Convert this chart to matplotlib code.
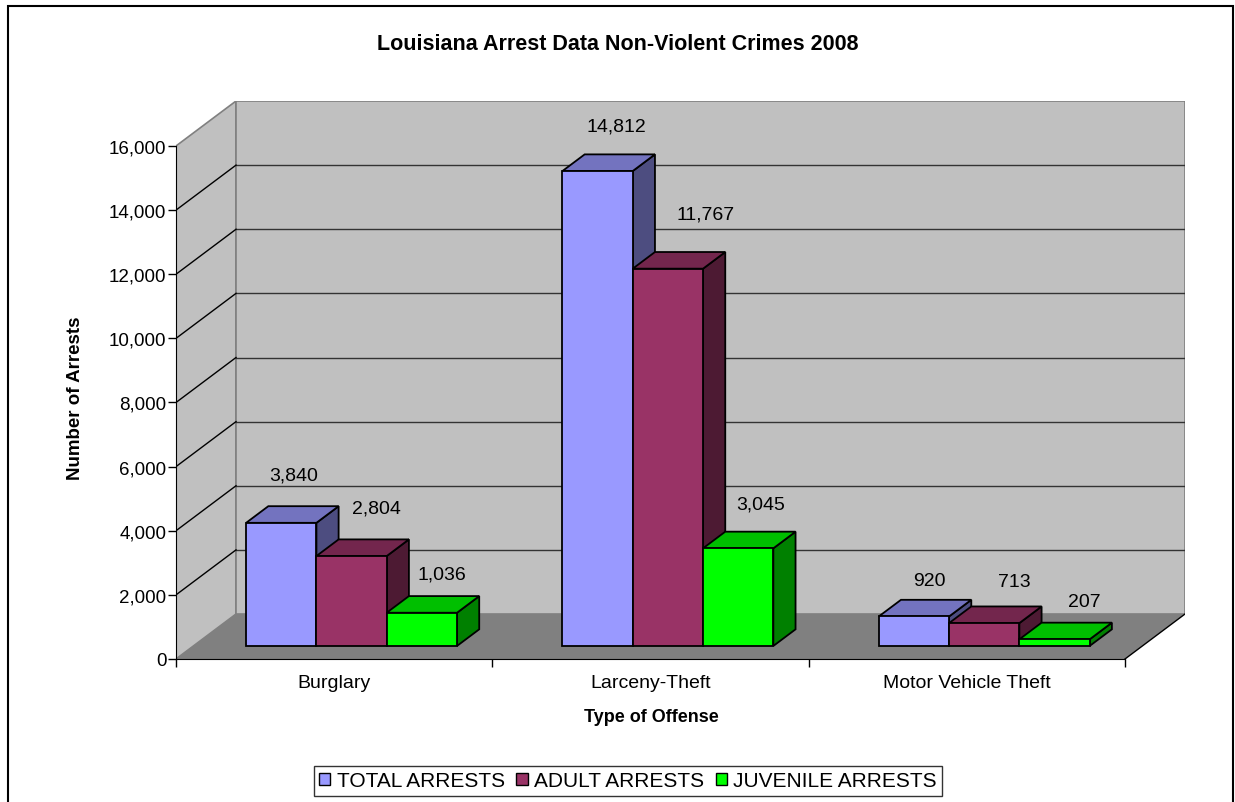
"""
Louisiana arrests 2008, non-violent crimes: 3D-style clustered column chart
"""

import matplotlib.pyplot as plt
from matplotlib.patches import Polygon, Rectangle, Patch
from matplotlib.ticker import FuncFormatter

plt.rcParams['font.family'] = ['Liberation Sans', 'DejaVu Sans']

# data
categories = ['Burglary', 'Larceny-Theft', 'Motor Vehicle Theft']
series_names = ['TOTAL ARRESTS', 'ADULT ARRESTS', 'JUVENILE ARRESTS']
total_arrests = [3840, 14812, 920]
adult_arrests = [2804, 11767, 713]
juvenile_arrests = [1036, 3045, 207]
y_ticks = [0, 2000, 4000, 6000, 8000, 10000, 12000, 14000, 16000]

# face / top / side shades per series
front_colors = ['#9999FF', '#993366', '#00FF00']
top_colors = ['#7373BF', '#73264D', '#00BF00']
side_colors = ['#4D4D80', '#4D1A33', '#008000']

# label nudges (pixels) from each bar's back-top centre
label_nudge = [
    [(-10, 31), (3, 31), (-2, 22)],
    [(-3, 28), (15, 38), (0, 28)],
    [(-7, 19), (8, 25), (8, 21)],
]

YMAX = 16000
DX = 0.1897      # depth offset in category units
DY = 1403        # depth offset in value units
BAR_W = 1 / 4.5  # gap width 150%
F0, F1 = 0.29, 0.66  # bar depth span as fraction of floor depth

W, H = 1235, 803
fig = plt.figure(figsize=(W / 100, H / 100), dpi=100)
ax = fig.add_axes([176 / W, (H - 660) / H, (1185 - 176) / W, (660 - 102) / H])
ax.set_xlim(0, 3 + DX)
ax.set_ylim(0, YMAX + DY)
ax.patch.set_visible(False)


def at(x, y, f):
    return (x + f * DX, y + f * DY)


# walls and floor
ax.add_patch(Polygon([(0, 0), at(0, 0, 1), at(0, YMAX, 1), (0, YMAX)],
                     facecolor='#C0C0C0', edgecolor='#808080', lw=1.2, zorder=1))
ax.add_patch(Rectangle(at(0, 0, 1), 3, YMAX, facecolor='#C0C0C0',
                       edgecolor='#808080', lw=1.2, zorder=1))
ax.add_patch(Polygon([(0, 0), (3, 0), at(3, 0, 1), at(0, 0, 1)],
                     facecolor='#808080', edgecolor='none', zorder=1.5))
ax.plot([3, 3 + DX], [0, DY], color='black', lw=1, zorder=2)

# gridlines on back wall and side wall
for v in y_ticks[1:-1]:
    ax.plot([DX, 3 + DX], [v + DY, v + DY], color='#333333', lw=1, zorder=2)
    ax.plot([0, DX], [v, v + DY], color='black', lw=1, zorder=2)

# bars
series = [total_arrests, adult_arrests, juvenile_arrests]
for ci in range(len(categories)):
    start = ci + (1 - 3 * BAR_W) / 2
    for si, vals in enumerate(series):
        v = vals[ci]
        x0 = start + si * BAR_W
        x1 = x0 + BAR_W
        front = [at(x0, 0, F0), at(x1, 0, F0), at(x1, v, F0), at(x0, v, F0)]
        top = [at(x0, v, F0), at(x1, v, F0), at(x1, v, F1), at(x0, v, F1)]
        side = [at(x1, 0, F0), at(x1, 0, F1), at(x1, v, F1), at(x1, v, F0)]
        z = 3 + ci * 3 + si
        for pts, c in [(side, side_colors[si]), (top, top_colors[si]), (front, front_colors[si])]:
            ax.add_patch(Polygon(pts, closed=True, facecolor=c, edgecolor='black',
                                 lw=1.3, joinstyle='miter', zorder=z))
        nx, ny = label_nudge[ci][si]
        ax.annotate(f'{v:,}', xy=at((x0 + x1) / 2, v, F1), xytext=(nx, ny),
                    textcoords='offset pixels', ha='center', va='center',
                    fontsize=14, zorder=20, annotation_clip=False)

# axes
for s in ['top', 'right']:
    ax.spines[s].set_visible(False)
ax.spines['left'].set_bounds(0, YMAX)
ax.spines['bottom'].set_bounds(0, 3)
ax.spines['left'].set_zorder(30)
ax.spines['bottom'].set_zorder(30)
ax.set_yticks(y_ticks)
ax.yaxis.set_major_formatter(FuncFormatter(lambda v, p: f'{int(v):,}'))
ax.tick_params(axis='y', direction='out', length=6, width=1, pad=1, labelsize=13.5)
ax.set_xticks([0, 1, 2, 3])
ax.set_xticklabels([])
ax.set_xticks([0.5, 1.5, 2.5], minor=True)
ax.set_xticklabels(categories, minor=True)
ax.tick_params(axis='x', which='major', direction='out', length=6, width=1)
ax.tick_params(axis='x', which='minor', length=0, pad=11, labelsize=14)

fig.text(0.5, 1 - 45 / H, 'Louisiana Arrest Data Non-Violent Crimes 2008',
         ha='center', va='center', fontsize=15.5, fontweight='bold')
fig.text(75 / W, 1 - 398 / H, 'Number of Arrests', rotation=90,
         ha='center', va='center', fontsize=13.5, fontweight='bold')
fig.text(651 / W, 1 - 718 / H, 'Type of Offense',
         ha='center', va='center', fontsize=13, fontweight='bold')

handles = [Patch(facecolor=c, edgecolor='black', lw=1) for c in front_colors]
leg = fig.legend(handles, series_names, loc='center', ncol=3,
                 bbox_to_anchor=(628 / W, 1 - 782 / H), fontsize=15,
                 frameon=True, fancybox=False, handlelength=0.55, handleheight=0.55,
                 handletextpad=0.3, columnspacing=0.55, borderpad=0.25,
                 borderaxespad=0)
leg.get_frame().set_edgecolor('black')
leg.get_frame().set_linewidth(1)

# outer chart border
fig.patches.append(Rectangle((8 / W, -0.02), 1225 / W, 1 - 7 / H + 0.02,
                             transform=fig.transFigure, fill=False,
                             edgecolor='black', lw=1.5))

fig.savefig('out.png', dpi=100)
